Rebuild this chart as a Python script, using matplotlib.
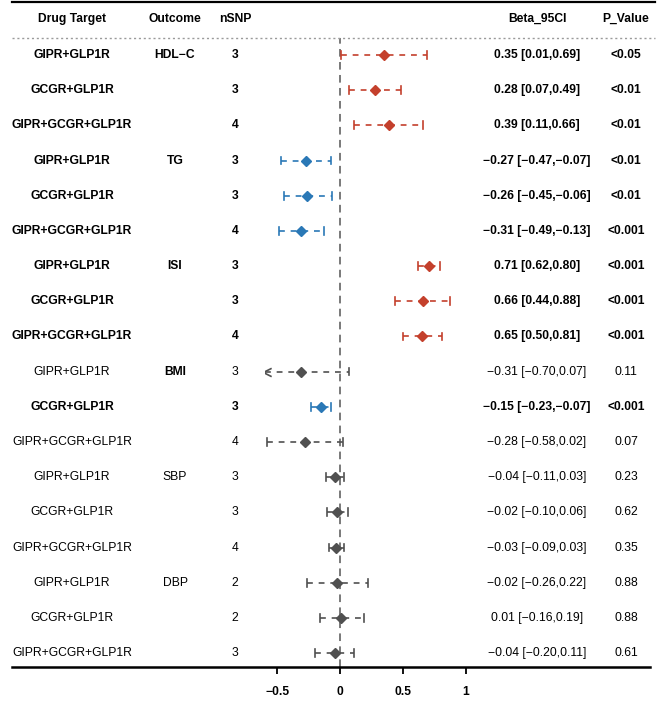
import matplotlib
matplotlib.use("Agg")
import matplotlib.pyplot as plt
import matplotlib.transforms as mtransforms
from matplotlib.lines import Line2D
from matplotlib.path import Path
import numpy as np

plt.rcParams['font.family'] = ['Liberation Sans', 'DejaVu Sans']

# data
targets = ["GIPR+GLP1R", "GCGR+GLP1R", "GIPR+GCGR+GLP1R"] * 6
outcomes = ["HDL\u2212C", "", "", "TG", "", "", "ISI", "", "", "BMI", "", "",
            "SBP", "", "", "DBP", "", ""]
nsnp = [3, 3, 4, 3, 3, 4, 3, 3, 4, 3, 3, 4, 3, 3, 4, 2, 2, 3]
beta = [0.35, 0.28, 0.39, -0.27, -0.26, -0.31, 0.71, 0.66, 0.65,
        -0.31, -0.15, -0.28, -0.04, -0.02, -0.03, -0.02, 0.01, -0.04]
lower = [0.01, 0.07, 0.11, -0.47, -0.45, -0.49, 0.62, 0.44, 0.50,
         -0.70, -0.23, -0.58, -0.11, -0.10, -0.09, -0.26, -0.16, -0.20]
upper = [0.69, 0.49, 0.66, -0.07, -0.06, -0.13, 0.80, 0.88, 0.81,
         0.07, -0.07, 0.02, 0.03, 0.06, 0.03, 0.22, 0.19, 0.11]
pvals = ["<0.05", "<0.01", "<0.01", "<0.01", "<0.01", "<0.001", "<0.001", "<0.001", "<0.001",
         "0.11", "<0.001", "0.07", "0.23", "0.62", "0.35", "0.88", "0.88", "0.61"]
bold_rows = [True] * 9 + [False, True, False] + [False] * 6
bold_outcome = [True] * 12 + [False] * 6
xticks = [-0.5, 0, 0.5, 1]
xtick_labels = ["\u22120.5", "0", "0.5", "1"]

RED, BLUE, GREY = "#C4402C", "#2A78B6", "#505050"

W, H = 669, 704
fig = plt.figure(figsize=(W / 100, H / 100), dpi=100)

# forest panel: 0 at x=340px, 1 unit = 125.5px, rows 35.18px apart starting at y=55
x_lo, x_hi = -0.6, 1.0
px0, scale = 340, 125.5
left_px = px0 + x_lo * scale
right_px = px0 + x_hi * scale
row_h = 35.18
top_px, bot_px = 38, 667
y_top = 1 + (top_px - 55) / row_h
y_bot = 1 + (bot_px - 55) / row_h
ax = fig.add_axes([left_px / W, 1 - bot_px / H, (right_px - left_px) / W, (bot_px - top_px) / H])
ax.set_xlim(x_lo, x_hi)
ax.set_ylim(y_bot, y_top)

ax.axvline(0, color="#555555", lw=1.1, dashes=(5, 3.5), zorder=1)

chevron = Path([(1, 1), (-1, 0), (1, -1)], [Path.MOVETO, Path.LINETO, Path.LINETO])

rows = np.arange(1, len(beta) + 1)
cap = 0.11
for r, b, lo, hi, p in zip(rows, beta, lower, upper, pvals):
    sig = p.startswith("<")
    col = (RED if b > 0 else BLUE) if sig else GREY
    lo_c = max(lo, x_lo)
    ax.plot([lo_c, hi], [r, r], color=col, lw=1.2, dashes=(3.5, 3.5), zorder=2)
    if lo < x_lo:
        ax.plot(lo_c + 0.02, r, marker=chevron, ms=6, color=col, mfc="none", mew=1.2, zorder=3)
    else:
        ax.plot([lo, lo], [r - cap, r + cap], color=col, lw=1.2, zorder=3)
    ax.plot([hi, hi], [r - cap, r + cap], color=col, lw=1.2, zorder=3)
    ms = 4.6 if sig else 5.2
    ax.plot(b, r, marker="D", ms=ms, color=col, mec=col, zorder=4)

for s in ["top", "left", "right", "bottom"]:
    ax.spines[s].set_visible(False)
ax.set_yticks([])
ax.set_xticks(xticks)
ax.set_xticklabels(xtick_labels, fontsize=8.7, fontweight="bold")
ax.tick_params(axis="x", length=5, width=1.3, pad=9, colors="black")
ax.patch.set_alpha(0)

# table text
tr = mtransforms.blended_transform_factory(fig.transFigure, ax.transData)
col_x = {"target": 72 / W, "outcome": 175 / W, "nsnp": 235 / W, "beta": 537 / W, "p": 626 / W}
fs = 8.7
for i, r in enumerate(rows):
    fw = "bold" if bold_rows[i] else "normal"
    ow = "bold" if bold_outcome[i] else "normal"
    ci_txt = f"{beta[i]:.2f} [{lower[i]:.2f},{upper[i]:.2f}]".replace("-", "\u2212")
    ax.text(col_x["target"], r, targets[i], transform=tr, ha="center", va="center", fontsize=fs, fontweight=fw)
    ax.text(col_x["outcome"], r, outcomes[i], transform=tr, ha="center", va="center", fontsize=fs, fontweight=ow)
    ax.text(col_x["nsnp"], r, str(nsnp[i]), transform=tr, ha="center", va="center", fontsize=fs, fontweight=fw)
    ax.text(col_x["beta"], r, ci_txt, transform=tr, ha="center", va="center", fontsize=fs, fontweight=fw)
    ax.text(col_x["p"], r, pvals[i], transform=tr, ha="center", va="center", fontsize=fs, fontweight=fw)

# header
hy = 1 - 19 / H
for key, lab in [("target", "Drug Target"), ("outcome", "Outcome"), ("nsnp", "nSNP"),
                 ("beta", "Beta_95CI"), ("p", "P_Value")]:
    fig.text(col_x[key], hy, lab, ha="center", va="center", fontsize=fs, fontweight="bold")

# borders
x0, x1 = 12 / W, 655 / W
fig.add_artist(Line2D([x0, x1], [1 - 2 / H, 1 - 2 / H], color="black", lw=1.6))
fig.add_artist(Line2D([x0, x1], [1 - 38 / H, 1 - 38 / H], color="#9a9a9a", lw=1.0, linestyle=(0, (1.5, 2))))
fig.add_artist(Line2D([x0, 650 / W], [1 - 667 / H, 1 - 667 / H], color="black", lw=1.8))

fig.savefig("out.png", dpi=100)
